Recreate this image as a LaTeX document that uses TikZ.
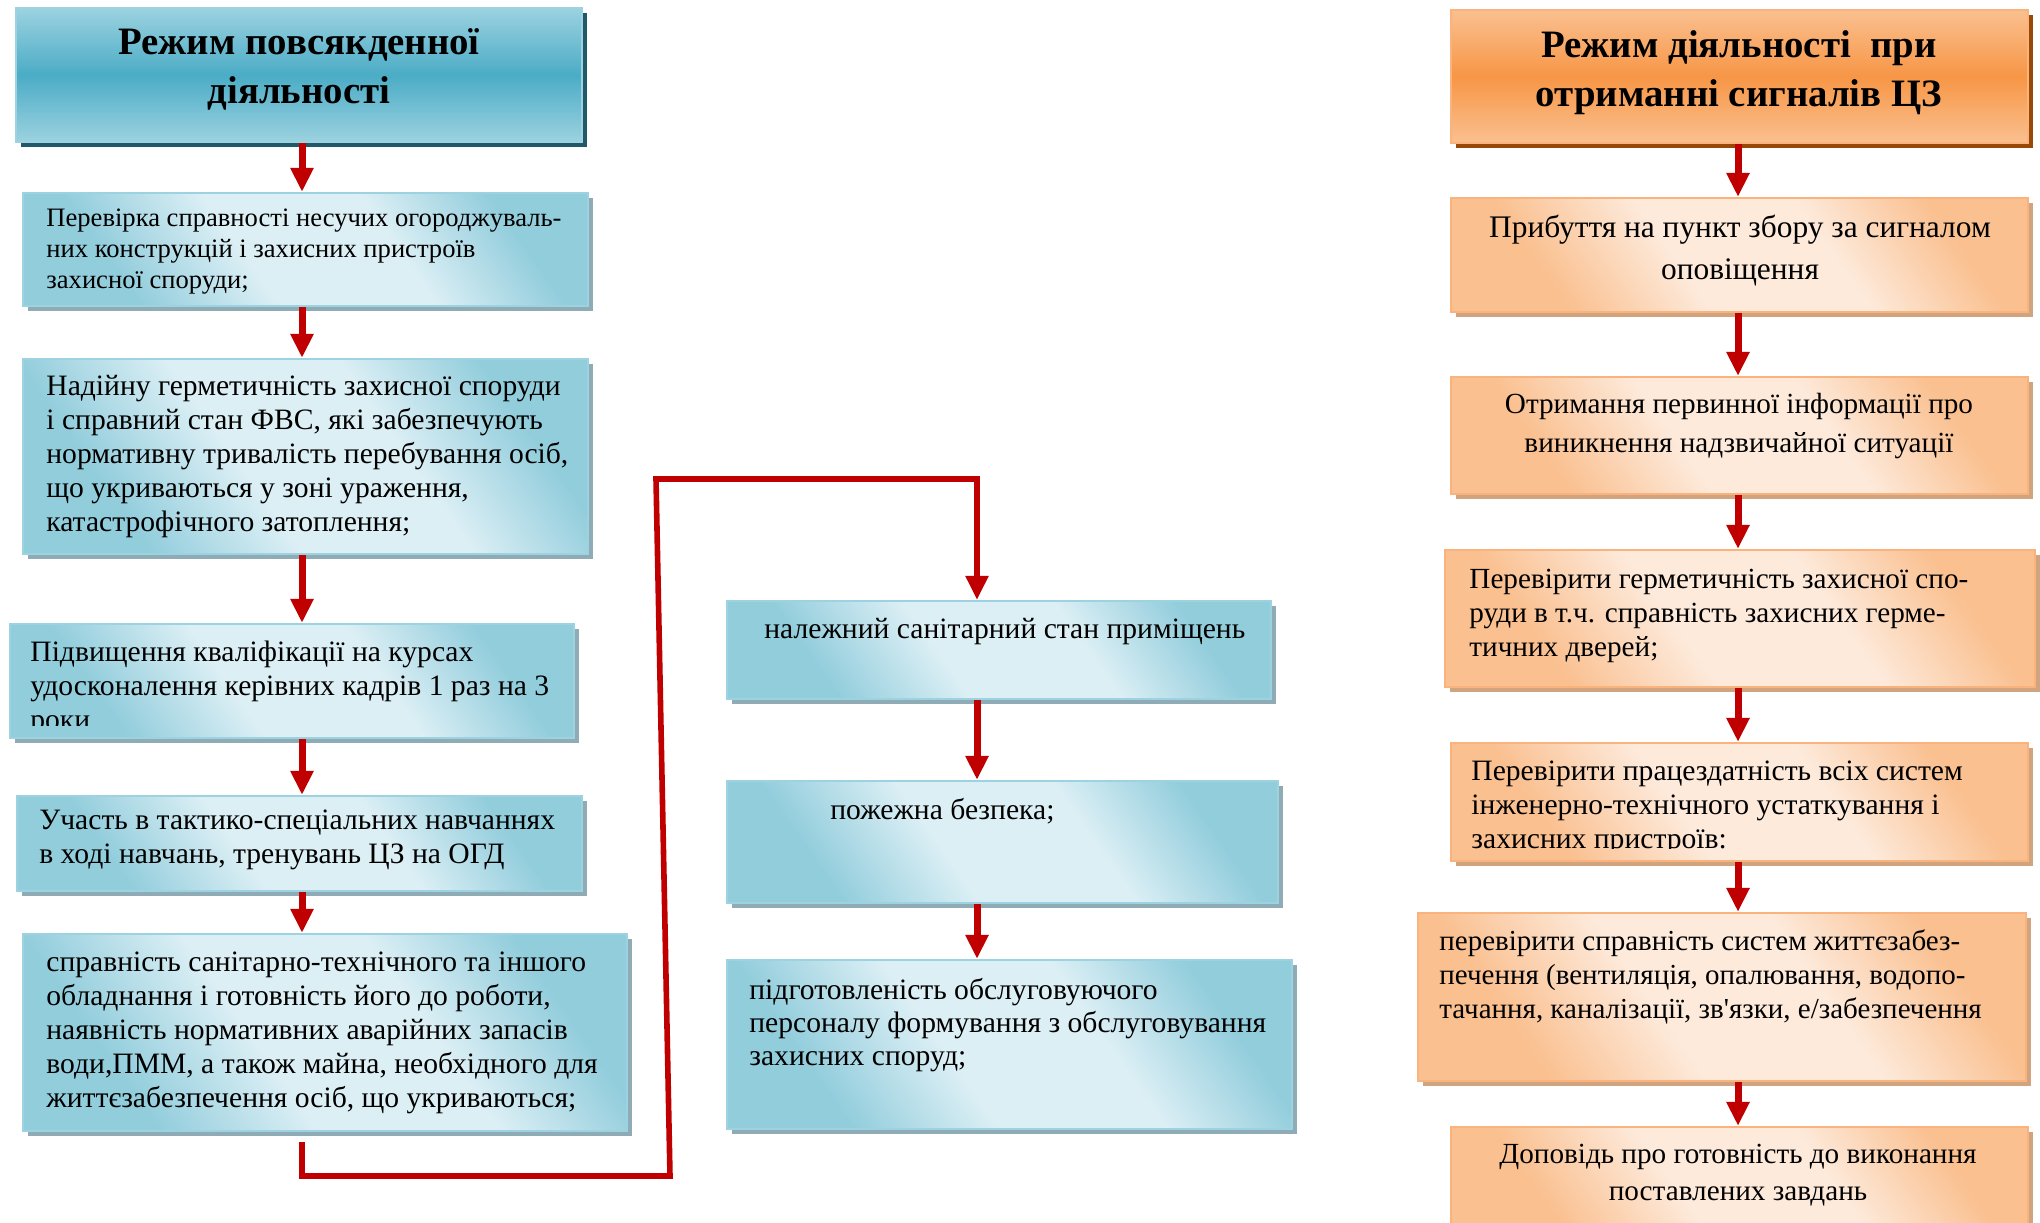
\documentclass[tikz,border=0pt]{standalone}
\usepackage{fontspec}
\setmainfont{Liberation Serif}
\usetikzlibrary{shadows,arrows.meta,fit}

\definecolor{bdark}{HTML}{92CDDC}
\definecolor{blight}{HTML}{DCEFF5}
\definecolor{brim}{HTML}{9DD2E1}
\definecolor{bshade}{HTML}{8FABB5}
\definecolor{btop}{HTML}{4BACC6}
\definecolor{btopl}{HTML}{9CD2E0}
\definecolor{btopshade}{HTML}{215968}
\definecolor{odark}{HTML}{FAC090}
\definecolor{olight}{HTML}{FDEADB}
\definecolor{orim}{HTML}{FAB37C}
\definecolor{oshade}{HTML}{CFA47F}
\definecolor{otop}{HTML}{F79646}
\definecolor{otopl}{HTML}{FAC090}
\definecolor{otopshade}{HTML}{984807}
\definecolor{arrowred}{HTML}{C00000}

\pgfdeclarehorizontalshading{bluesh}{100bp}{color(0bp)=(bdark); color(28bp)=(bdark); color(43bp)=(blight); color(60bp)=(blight); color(74bp)=(bdark); color(100bp)=(bdark)}
\pgfdeclarehorizontalshading{orangesh}{100bp}{color(0bp)=(odark); color(28bp)=(odark); color(43bp)=(olight); color(60bp)=(olight); color(74bp)=(odark); color(100bp)=(odark)}

\tikzset{
  boxtext/.style={anchor=north west, align=left, inner sep=0pt, font=\fontsize{14.8}{17}\selectfont},
  stage/.style={inner sep=0pt, line width=1.2pt},
  bluebox/.style={stage, draw=brim, shading=bluesh, shading angle=35,
    drop shadow={shadow xshift=2.5pt, shadow yshift=-2.5pt, fill=bshade, opacity=1}},
  bluehead/.style={stage, draw=brim, top color=btopl, bottom color=btopl, middle color=btop,
    drop shadow={shadow xshift=2.5pt, shadow yshift=-2.5pt, fill=btopshade, opacity=1}},
  orangebox/.style={stage, draw=orim, shading=orangesh, shading angle=35,
    drop shadow={shadow xshift=2.5pt, shadow yshift=-2.5pt, fill=oshade, opacity=1}},
  orangehead/.style={stage, draw=orim, top color=otopl, bottom color=otopl, middle color=otop,
    drop shadow={shadow xshift=2.5pt, shadow yshift=-2.5pt, fill=otopshade, opacity=1}},
  headtext/.style={anchor=north, align=center, inner sep=0pt, font=\fontsize{19.4}{24.5}\selectfont\bfseries},
  midtext/.style={boxtext, anchor=north, align=center},
  flow/.style={draw=arrowred, line width=3.5pt, -{Triangle[width=11pt,length=12pt]}},
  loopline/.style={draw=arrowred, line width=2.8pt, -{Triangle[width=11pt,length=12pt]}}
}

\begin{document}
\begin{tikzpicture}[x=0.5pt,y=-0.5pt]
  \useasboundingbox (0,0) rectangle (2040,1222);
  \clip (0,0) rectangle (2040,1222);

  % left column
  \node[bluehead, fit={(16,8) (582,142)}] (everyday) {};
  \node[bluebox, fit={(23,193) (588,306)}] (bearing) {};
  \node[bluebox, fit={(23,359) (588,554)}] (tight) {};
  \node[bluebox, fit={(10,624) (574,738)}] (courses) {};
  \node[bluebox, fit={(17,796) (582,891)}] (drill) {};
  \node[bluebox, fit={(23,934) (627,1131)}] (sanit) {};

  \node[headtext] (everyday-t) at (299,28) {Режим повсякденної\\діяльності};
  \node[boxtext, font=\fontsize{13.3}{15.5}\selectfont] (bearing-t) at (46,208)
    {Перевірка справності несучих огороджуваль-\\них конструкцій і захисних пристроїв\\захисної споруди;};
  \node[boxtext] (tight-t) at (46,375)
    {Надійну герметичність захисної споруди\\і справний стан ФВС, які забезпечують\\нормативну тривалість перебування осіб,\\що укриваються у зоні ураження,\\катастрофічного затоплення;};
  \begin{scope}
    \clip (courses.north west) rectangle ([yshift=7pt]courses.south east);
    \node[boxtext] (courses-t) at (30,641)
      {Підвищення кваліфікації на курсах\\удосконалення керівних кадрів 1 раз на 3\\роки};
  \end{scope}
  \node[boxtext] (drill-t) at (39,809)
    {Участь в тактико-спеціальних навчаннях\\в ході навчань, тренувань ЦЗ на ОГД};
  \node[boxtext] (sanit-t) at (46,951)
    {справність санітарно-технічного та іншого\\обладнання і готовність його до роботи,\\наявність нормативних аварійних запасів\\води,ПММ, а також майна, необхідного для\\життєзабезпечення осіб, що укриваються;};

  % middle column
  \node[bluebox, fit={(727,601) (1271,699)}] (rooms) {};
  \node[bluebox, fit={(727,781) (1278,903)}] (fire) {};
  \node[bluebox, fit={(727,960) (1292,1129)}] (staff) {};

  \node[boxtext] (rooms-t) at (764,618) {належний санітарний стан приміщень};
  \node[boxtext] (fire-t) at (830,798) {пожежна безпека;};
  \node[boxtext, font=\fontsize{14.8}{16.5}\selectfont] (staff-t) at (749,978)
    {підготовленість обслуговуючого\\персоналу формування з обслуговування\\захисних споруд;};

  % right column
  \node[orangehead, fit={(1451,10) (2028,143)}] (signal) {};
  \node[orangebox, fit={(1451,198) (2028,312)}] (arrive) {};
  \node[orangebox, fit={(1451,377) (2028,494)}] (inform) {};
  \node[orangebox, fit={(1445,550) (2035,687)}] (seal) {};
  \node[orangebox, fit={(1451,743) (2028,861)}] (systems) {};
  \node[orangebox, fit={(1418,913) (2026,1081)}] (support) {};
  \node[orangebox, fit={(1451,1127) (2028,1240)}] (report) {};

  \node[headtext] (signal-t) at (1739,30) {Режим діяльності \ при\\отриманні сигналів ЦЗ};
  \node[midtext, font=\fontsize{15.7}{21}\selectfont] (arrive-t) at (1740,215)
    {Прибуття на пункт збору за сигналом\\оповіщення};
  \node[midtext, font=\fontsize{14.6}{19.5}\selectfont] (inform-t) at (1739,393)
    {Отримання первинної інформації про\\виникнення надзвичайної ситуації};
  \node[boxtext, font=\fontsize{14.6}{17}\selectfont] (seal-t) at (1469,569)
    {Перевірити герметичність захисної спо-\\руди в т.ч. справність захисних герме-\\тичних дверей;};
  \begin{scope}
    \clip (systems.north west) rectangle ([yshift=7pt]systems.south east);
    \node[boxtext] (systems-t) at (1471,760)
      {Перевірити працездатність всіх систем\\інженерно-технічного устаткування і\\захисних пристроїв:};
  \end{scope}
  \node[boxtext, font=\fontsize{14.5}{17}\selectfont] (support-t) at (1439,929)
    {перевірити справність систем життєзабез-\\печення (вентиляція, опалювання, водопо-\\тачання, каналізації, зв\textquotesingle язки, е/забезпечення};
  \node[midtext, font=\fontsize{14.6}{18.5}\selectfont] (report-t) at (1738,1144)
    {Доповідь про готовність до виконання\\поставлених завдань};

  \coordinate (lx) at (302,0);
  \coordinate (mx) at (977,0);
  \coordinate (rx) at (1738,0);
  \coordinate (c1) at (670,1176);
  \coordinate (c2) at (656,479);

  % arrows
  \draw[flow] (everyday.south -| lx) -- (bearing.north -| lx);
  \draw[flow] (bearing.south -| lx) -- (tight.north -| lx);
  \draw[flow] (tight.south -| lx) -- (courses.north -| lx);
  \draw[flow] (courses.south -| lx) -- (drill.north -| lx);
  \draw[flow] (drill.south -| lx) -- (sanit.north -| lx);
  \draw[loopline] ([yshift=-5pt]sanit.south -| lx) |- (c1) -- (c2) -| (rooms.north -| mx);
  \draw[flow] (rooms.south -| mx) -- (fire.north -| mx);
  \draw[flow] (fire.south -| mx) -- (staff.north -| mx);
  \draw[flow] (signal.south -| rx) -- (arrive.north -| rx);
  \draw[flow] (arrive.south -| rx) -- (inform.north -| rx);
  \draw[flow] (inform.south -| rx) -- (seal.north -| rx);
  \draw[flow] (seal.south -| rx) -- (systems.north -| rx);
  \draw[flow] (systems.south -| rx) -- (support.north -| rx);
  \draw[flow] (support.south -| rx) -- (report.north -| rx);
\end{tikzpicture}
\end{document}
